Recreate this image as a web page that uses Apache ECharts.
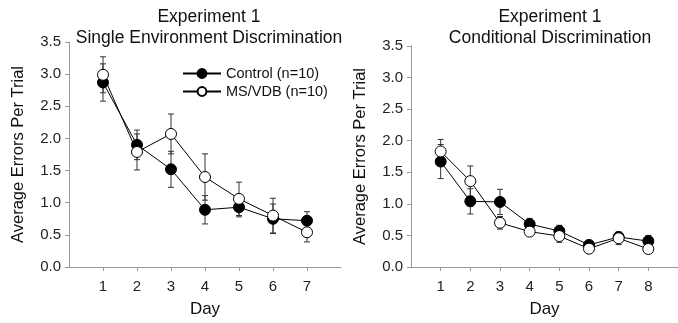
<!DOCTYPE html>
<html>
<head>
<meta charset="utf-8">
<script src="https://cdn.jsdelivr.net/npm/echarts@6/dist/echarts.min.js"></script>
<style>html,body{margin:0;padding:0;background:#fff}#c{width:678px;height:323px}</style>
</head>
<body>
<div id="c"></div>
<script>
var days1 = [1, 2, 3, 4, 5, 6, 7];
var ctrl1 = [2.87, 1.90, 1.52, 0.89, 0.93, 0.75, 0.72];
var ctrl1Err = [0.29, 0.23, 0.28, 0.22, 0.15, 0.23, 0.14];
var ms1 = [2.99, 1.79, 2.07, 1.40, 1.06, 0.80, 0.54];
var ms1Err = [0.28, 0.28, 0.31, 0.36, 0.26, 0.27, 0.15];

var days2 = [1, 2, 3, 4, 5, 6, 7, 8];
var ctrl2 = [1.67, 1.04, 1.03, 0.68, 0.57, 0.35, 0.475, 0.41];
var ctrl2Err = [0.27, 0.20, 0.20, 0.09, 0.09, 0.04, 0.05, 0.09];
var ms2 = [1.83, 1.36, 0.70, 0.56, 0.49, 0.29, 0.455, 0.285];
var ms2Err = [0.19, 0.24, 0.10, 0.04, 0.10, 0.04, 0.10, 0.03];

var yTicks = [0, 0.5, 1, 1.5, 2, 2.5, 3, 3.5];
var seriesNames = ['Control (n=10)', 'MS/VDB (n=10)'];
var titles = ['Experiment 1\nSingle Environment Discrimination', 'Experiment 1\nConditional Discrimination'];

var FONT = '"Liberation Sans", Arial, sans-serif';

function pts(xs, ys) { return xs.map(function (x, i) { return [x, ys[i]]; }); }
function errPts(xs, ys, es) { return xs.map(function (x, i) { return [x, ys[i], es[i]]; }); }

function errSeries(idx, data) {
  return {
    type: 'custom', xAxisIndex: idx, yAxisIndex: idx, z: 1, silent: true,
    data: data,
    renderItem: function (params, api) {
      var x = api.value(0), y = api.value(1), e = api.value(2);
      var top = api.coord([x, y + e]);
      var bot = api.coord([x, y - e]);
      var w = 3;
      var st = { stroke: '#333', lineWidth: 1 };
      return {
        type: 'group',
        children: [
          { type: 'line', shape: { x1: top[0], y1: top[1], x2: bot[0], y2: bot[1] }, style: st },
          { type: 'line', shape: { x1: top[0] - w, y1: top[1], x2: top[0] + w, y2: top[1] }, style: st },
          { type: 'line', shape: { x1: bot[0] - w, y1: bot[1], x2: bot[0] + w, y2: bot[1] }, style: st }
        ]
      };
    }
  };
}

function lineSeries(idx, name, data, filled) {
  return {
    type: 'line', name: name, xAxisIndex: idx, yAxisIndex: idx, z: filled ? 3 : 4,
    data: data, symbol: 'circle', symbolSize: 11,
    lineStyle: { color: '#000', width: 1 },
    itemStyle: { color: filled ? '#000' : '#fff', borderColor: '#000', borderWidth: 1 },
    emphasis: { disabled: true }
  };
}

function xAxis(idx, max, ticks) {
  return {
    type: 'value', gridIndex: idx, min: 0, max: max,
    name: 'Day', nameLocation: 'middle', nameGap: 34,
    nameTextStyle: { fontFamily: FONT, fontSize: 17, color: '#111' },
    axisLine: { show: true, lineStyle: { color: '#999', width: 1 } },
    axisTick: { show: true, length: 4, lineStyle: { color: '#999' }, customValues: ticks },
    axisLabel: { fontFamily: FONT, fontSize: 15, color: '#222', margin: 12, customValues: ticks },
    splitLine: { show: false }
  };
}

function yAxis(idx) {
  return {
    type: 'value', gridIndex: idx, min: 0, max: 3.5, interval: 0.5,
    name: 'Average Errors Per Trial', nameLocation: 'middle', nameGap: 42,
    nameTextStyle: { fontFamily: FONT, fontSize: 16.5, color: '#111' },
    axisLine: { show: true, lineStyle: { color: '#999', width: 1 } },
    axisTick: { show: true, length: 4, lineStyle: { color: '#999' } },
    axisLabel: { fontFamily: FONT, fontSize: 15, color: '#222', margin: 8,
      formatter: function (v) { return v.toFixed(1); } },
    splitLine: { show: false }
  };
}

var chart = echarts.init(document.getElementById('c'), null, { renderer: 'canvas' });
chart.setOption({
  animation: false,
  backgroundColor: '#fff',
  title: [
    { text: titles[0], left: 204, top: 2, textAlign: 'center',
      textStyle: { fontFamily: FONT, fontSize: 17.5, fontWeight: 'normal', color: '#111', lineHeight: 21 } },
    { text: titles[1], left: 545, top: 2, textAlign: 'center',
      textStyle: { fontFamily: FONT, fontSize: 17.5, fontWeight: 'normal', color: '#111', lineHeight: 21 } }
  ],
  legend: {
    orient: 'vertical', left: 177, top: 61, itemWidth: 38, itemHeight: 11, itemGap: 3,
    data: seriesNames,
    textStyle: { fontFamily: FONT, fontSize: 14.5, color: '#111' }
  },
  grid: [
    { left: 69, top: 42, width: 272, height: 225 },
    { left: 411, top: 46, width: 273, height: 226 }
  ],
  xAxis: [xAxis(0, 8, days1), xAxis(1, 9, days2)],
  yAxis: [yAxis(0), yAxis(1)],
  series: [
    errSeries(0, errPts(days1, ctrl1, ctrl1Err)),
    errSeries(0, errPts(days1, ms1, ms1Err)),
    lineSeries(0, seriesNames[0], pts(days1, ctrl1), true),
    lineSeries(0, seriesNames[1], pts(days1, ms1), false),
    errSeries(1, errPts(days2, ctrl2, ctrl2Err)),
    errSeries(1, errPts(days2, ms2, ms2Err)),
    lineSeries(1, seriesNames[0], pts(days2, ctrl2), true),
    lineSeries(1, seriesNames[1], pts(days2, ms2), false)
  ]
});
</script>
</body>
</html>
